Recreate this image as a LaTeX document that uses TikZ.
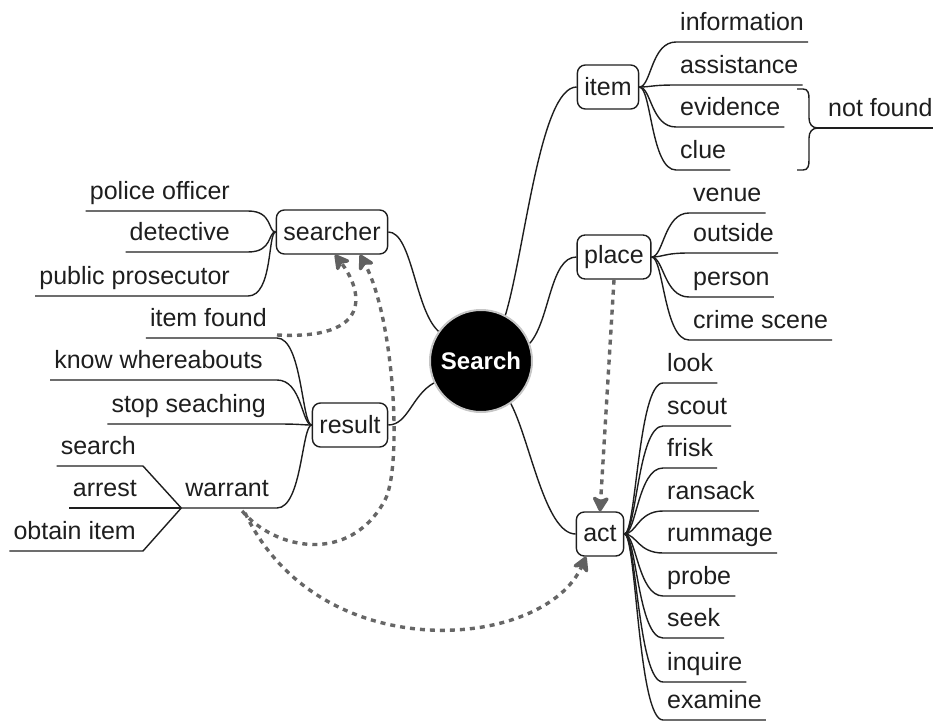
\documentclass[tikz,border=0pt]{standalone}
\usepackage{fontspec}
\setmainfont{Liberation Sans}
\usetikzlibrary{arrows.meta}

\definecolor{ink}{HTML}{1E1E1E}
\definecolor{linkgray}{HTML}{666666}

\begin{document}
\begin{tikzpicture}[x=1pt,y=-1pt,
  every node/.style={font=\fontsize{25}{30}\selectfont, text=ink},
  topic/.style={draw=ink, line width=1.4pt, rounded corners=8pt, inner xsep=7pt,
                inner ysep=0pt, minimum height=44pt},
  leafR/.style={anchor=south west, inner xsep=4pt, inner ysep=0pt,
                text height=18pt, text depth=11pt},
  leafL/.style={anchor=south east, inner xsep=4pt, inner ysep=0pt,
                text height=18pt, text depth=11pt},
  branch/.style={draw=ink, line width=1.4pt},
  relation/.style={draw=linkgray, line width=3.4pt, dash pattern=on 5pt off 5pt,
                   -{Stealth[length=18pt,width=20pt,inset=5pt,round,color=black!62,fill=black!62]}},
]
\useasboundingbox (0,0) rectangle (933,722);

% central topic
\node[circle, fill=black, draw=gray!45, line width=2pt, minimum size=102pt, inner sep=0pt,
      text=white, font=\bfseries\fontsize{24}{28}\selectfont] (S) at (481,361) {Search};

% main topics
\node[topic] (item)     at (608,87)  {item};
\node[topic] (place)    at (614,257) {place};
\node[topic] (act)      at (600,534) {act};
\node[topic] (searcher) at (332,232) {searcher};
\node[topic] (result)   at (350,425) {result};

% junction columns for the left-hand branches
\coordinate (sj) at (248,0);
\coordinate (rj) at (277,0);

% centre to main topics
\draw[branch] (S.62) .. controls (525,250) and (540,87) .. (item.west);
\draw[branch] (S.20) .. controls (550,320) and (550,257) .. (place.west);
\draw[branch] (S.-55) .. controls (530,440) and (545,534) .. (act.west);
\draw[branch] (searcher.east) .. controls (412,232) and (415,310) .. (S.145);
\draw[branch] (result.east) .. controls (408,425) and (412,395) .. (S.205);

% item
\foreach \n/\t/\y in {info/information/42, assist/assistance/85,
                      evid/evidence/127, clue/clue/170}{
  \node[leafR] (\n) at (676,\y) {\t};
  \draw[branch] (item.east) .. controls +(12,0) and +(-25,0) .. (\n.south west) -- (\n.south east);
}

% brace grouping evidence and clue
\coordinate (brtip) at (818,128);
\node[leafR] (nf) at (824,128) {not found};
\draw[branch] (797,89) -- (803,89) .. controls (808,89) and (809,93) .. (809,99) -- (809,118)
  .. controls (809,124) and (812,128) .. (brtip)
  .. controls (812,128) and (809,132) .. (809,138) -- (809,160)
  .. controls (809,166) and (808,170) .. (803,170) -- (797,170);
\draw[branch] (brtip) -- (nf.south east);

% place
\foreach \n/\t/\y in {venue/venue/213, outside/outside/253,
                      person/person/297, crime/crime scene/340}{
  \node[leafR] (\n) at (689,\y) {\t};
  \draw[branch] (place.east) .. controls +(12,0) and +(-25,0) .. (\n.south west) -- (\n.south east);
}

% act
\foreach \n/\t/\y in {look/look/383, scout/scout/426, frisk/frisk/468,
                      ransack/ransack/511, rummage/rummage/553, probe/probe/596,
                      seek/seek/638, inquire/inquire/682, examine/examine/720}{
  \node[leafR] (\n) at (663,\y) {\t};
  \draw[branch] (act.east) .. controls +(12,0) and +(-25,0) .. (\n.south west) -- (\n.south east);
}

% searcher
\foreach \n/\t/\y in {police/police officer/211, detect/detective/252,
                      prosec/public prosecutor/296}{
  \node[leafL] (\n) at (234,\y) {\t};
  \draw[branch] (searcher.west) .. controls +(-8,0) and +(25,0) .. (\n.south -| sj) -- (\n.south west);
}

% result
\node[leafL] (ifound)  at (271,338) {item found};
\node[leafL] (whereab) at (267,380) {know whereabouts};
\node[leafL] (stopsk)  at (270,424) {stop seaching};
\node[leafL] (warrant) at (273,508) {warrant};
\foreach \n in {ifound, whereab, stopsk, warrant}{
  \draw[branch] (result.west) .. controls +(-10,0) and +(25,0) .. (\n.south -| rj) -- (\n.south west);
}

% warrant
\node[leafL] (wsearch) at (140,466) {search};
\node[leafL] (warrest) at (141,508) {arrest};
\node[leafL] (wobtain) at (140,551) {obtain item};
\draw[branch] (warrant.south west) -- ([xshift=3pt]wsearch.south east) -- (wsearch.south west);
\draw[branch] (warrant.south west) -- (warrest.south west);
\draw[branch] (warrant.south west) -- ([xshift=3pt]wobtain.south east) -- (wobtain.south west);

% relations
\draw[relation] ([xshift=6pt,yshift=3pt]ifound.south east)
  .. controls (375,340) and (362,290) .. ([xshift=3pt]searcher.south);
\draw[relation] ([xshift=15pt,yshift=-3pt]warrant.south)
  .. controls (275,550) and (350,565) .. (385,500)
  .. controls (402,468) and (395,320) .. ([xshift=28pt]searcher.south);
\draw[relation] ([xshift=18pt,yshift=-5pt]warrant.south)
  .. controls (320,670) and (545,650) .. ([xshift=-14pt]act.south);
\draw[relation] (place.south) -- (act.north);
\end{tikzpicture}
\end{document}
